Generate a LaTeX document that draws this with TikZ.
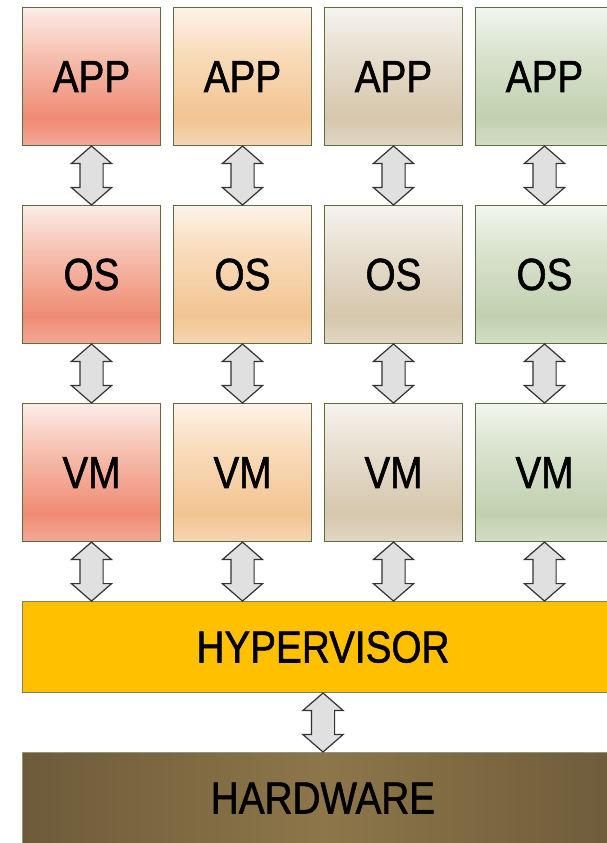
\documentclass[tikz,border=0pt]{standalone}
\usepackage{fontspec}
\setmainfont[FakeStretch=0.86,FakeBold=1.2]{Liberation Sans}
\usetikzlibrary{shapes.arrows}

% column fills, light at the top, deepest near the bottom
\definecolor{redtop}{RGB}{252,236,232}
\definecolor{redmid}{RGB}{246,192,176}
\definecolor{reddeep}{RGB}{239,139,115}
\definecolor{redlow}{RGB}{244,168,150}
\definecolor{orgtop}{RGB}{253,243,232}
\definecolor{orgmid}{RGB}{249,219,186}
\definecolor{orgdeep}{RGB}{242,196,145}
\definecolor{orglow}{RGB}{246,214,180}
\definecolor{tantop}{RGB}{246,243,238}
\definecolor{tanmid}{RGB}{231,222,207}
\definecolor{tandeep}{RGB}{214,199,172}
\definecolor{tanlow}{RGB}{225,215,197}
\definecolor{grntop}{RGB}{242,246,238}
\definecolor{grnmid}{RGB}{216,226,205}
\definecolor{grndeep}{RGB}{193,209,175}
\definecolor{grnlow}{RGB}{211,222,198}
\pgfdeclareverticalshading{redfade}{100bp}{color(0bp)=(redlow); color(25bp)=(redlow); color(35bp)=(reddeep); color(58bp)=(redmid); color(75bp)=(redtop); color(100bp)=(redtop)}
\pgfdeclareverticalshading{orgfade}{100bp}{color(0bp)=(orglow); color(25bp)=(orglow); color(35bp)=(orgdeep); color(58bp)=(orgmid); color(75bp)=(orgtop); color(100bp)=(orgtop)}
\pgfdeclareverticalshading{tanfade}{100bp}{color(0bp)=(tanlow); color(25bp)=(tanlow); color(35bp)=(tandeep); color(58bp)=(tanmid); color(75bp)=(tantop); color(100bp)=(tantop)}
\pgfdeclareverticalshading{grnfade}{100bp}{color(0bp)=(grnlow); color(25bp)=(grnlow); color(35bp)=(grndeep); color(58bp)=(grnmid); color(75bp)=(grntop); color(100bp)=(grntop)}

\begin{document}
\begin{tikzpicture}[node distance=198pt]
            \definecolor{boxline}{RGB}{90,110,64}
            \definecolor{hvline}{RGB}{128,128,96}
            \definecolor{hvfill}{RGB}{255,192,0}
            \definecolor{hwdark}{RGB}{110,91,58}
            \definecolor{hwlight}{RGB}{141,118,73}
            \tikzstyle{layer} = [rectangle,
            minimum width=138pt,
            minimum height=138pt,
            text centered,
            draw=boxline,
            line width=1.4pt,
            font=\fontsize{45}{54}\selectfont]
            \tikzstyle{wide} = [rectangle,
            minimum width=601pt,
            minimum height=91pt,
            text centered,
            line width=1pt,
            font=\fontsize{45}{54}\selectfont]
            \tikzstyle{updown} = [double arrow,
            shape border rotate=90,
            minimum height=59pt,
            minimum width=39pt,
            inner sep=11pt,
            double arrow head extend=8.5pt,
            double arrow tip angle=98,
            draw=black!80, line width=1.2pt,
            fill=black!12]
            \useasboundingbox (0,0) rectangle (607pt,-843pt);

            % guest stacks, one column each
            \node (app1)[layer, shading=redfade] at (91.5pt,-76.5pt) {APP};
            \node (app2)[layer, shading=orgfade, node distance=151pt, right of=app1] {APP};
            \node (app3)[layer, shading=tanfade, node distance=151pt, right of=app2] {APP};
            \node (app4)[layer, shading=grnfade, node distance=151pt, right of=app3] {APP};
            \node (os1)[layer, shading=redfade, below of=app1] {OS};
            \node (os2)[layer, shading=orgfade, below of=app2] {OS};
            \node (os3)[layer, shading=tanfade, below of=app3] {OS};
            \node (os4)[layer, shading=grnfade, below of=app4] {OS};
            \node (vm1)[layer, shading=redfade, below of=os1] {VM};
            \node (vm2)[layer, shading=orgfade, below of=os2] {VM};
            \node (vm3)[layer, shading=tanfade, below of=os3] {VM};
            \node (vm4)[layer, shading=grnfade, below of=os4] {VM};

            \node (hyper)[wide, draw=hvline, fill=hvfill] at (323pt,-647pt) {HYPERVISOR};
            \node (hw)[wide, draw=boxline!70, left color=hwdark, right color=hwdark, middle color=hwlight] at (323pt,-798pt) {HARDWARE};

            % two-way links between the layers
            \path (app1.south) -- node[updown] (ao1) {} (os1.north);
            \path (app2.south) -- node[updown] (ao2) {} (os2.north);
            \path (app3.south) -- node[updown] (ao3) {} (os3.north);
            \path (app4.south) -- node[updown] (ao4) {} (os4.north);
            \path (os1.south) -- node[updown] (ov1) {} (vm1.north);
            \path (os2.south) -- node[updown] (ov2) {} (vm2.north);
            \path (os3.south) -- node[updown] (ov3) {} (vm3.north);
            \path (os4.south) -- node[updown] (ov4) {} (vm4.north);
            \path (vm1.south) -- node[updown] (vh1) {} (vm1.south |- hyper.north);
            \path (vm2.south) -- node[updown] (vh2) {} (vm2.south |- hyper.north);
            \path (vm3.south) -- node[updown] (vh3) {} (vm3.south |- hyper.north);
            \path (vm4.south) -- node[updown] (vh4) {} (vm4.south |- hyper.north);
            \path (hyper.south) -- node[updown] (hh) {} (hw.north);
        \end{tikzpicture}
\end{document}
